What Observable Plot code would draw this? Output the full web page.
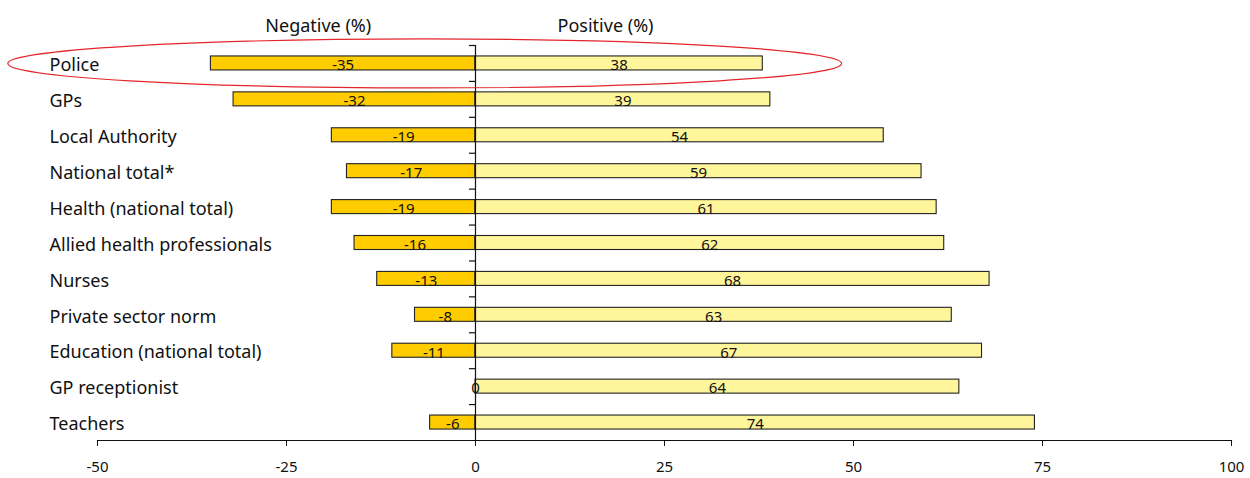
<!DOCTYPE html>
<html>
<head>
<meta charset="utf-8">
<script src="https://cdn.jsdelivr.net/npm/d3@7"></script>
<script src="https://cdn.jsdelivr.net/npm/@observablehq/plot@0.6"></script>
<style>
  html, body { margin: 0; padding: 0; background: #fff; }
  #chart { width: 1250px; height: 478px; }
</style>
</head>
<body>
<div id="chart"></div>
<script>
const categories = [
  "Police", "GPs", "Local Authority", "National total*", "Health (national total)",
  "Allied health professionals", "Nurses", "Private sector norm",
  "Education (national total)", "GP receptionist", "Teachers"
];
const negativeValues = [-35, -32, -19, -17, -19, -16, -13, -8, -11, 0, -6];
const positiveValues = [38, 39, 54, 59, 61, 62, 68, 63, 67, 64, 74];
const xTicks = [-50, -25, 0, 25, 50, 75, 100];
const headers = ["Negative (%)", "Positive (%)"];
const headerX = [-20.8, 17.2];
// highlighted row (red ellipse annotation), extent in x data units
const highlightCategory = "Police";
const highlightX = [-61.8, 48.5];

const rows = categories.map((c, i) => ({cat: c, neg: negativeValues[i], pos: positiveValues[i]}));

const ellipseMark = (index, scales, values, dimensions) => {
  const y = scales.y;
  const bw = y.bandwidth ? y.bandwidth() : 0;
  const cy = y(highlightCategory) + bw / 2 + 0.5;
  const x1 = scales.x(highlightX[0]), x2 = scales.x(highlightX[1]);
  const ns = "http://www.w3.org/2000/svg";
  const el = document.createElementNS(ns, "ellipse");
  el.setAttribute("cx", (x1 + x2) / 2);
  el.setAttribute("cy", cy);
  el.setAttribute("rx", (x2 - x1) / 2);
  el.setAttribute("ry", 24.5);
  el.setAttribute("fill", "none");
  el.setAttribute("stroke", "#e3262b");
  el.setAttribute("stroke-width", 1.2);
  return el;
};

const chart = Plot.plot({
  width: 1250,
  height: 478,
  marginLeft: 97,
  marginRight: 19,
  marginTop: 45,
  marginBottom: 38,
  style: {fontFamily: "'Noto Sans', sans-serif", fontSize: "15px", color: "#111", background: "#fff"},
  x: {domain: [-50, 100]},
  y: {domain: categories, type: "band", paddingInner: 0.61, paddingOuter: 0.305, round: false, axis: null},
  marks: [
    Plot.barX(rows, {y: "cat", x1: 0, x2: "neg", fill: "#FFCC00", stroke: "#222", strokeWidth: 1.1}),
    Plot.barX(rows, {y: "cat", x1: 0, x2: "pos", fill: "#FFF59A", stroke: "#222", strokeWidth: 1.1}),
    Plot.ruleX([0], {stroke: "#111", strokeWidth: 1.2}),
    Plot.ruleY(categories, {y: d => d, x1: -0.8, x2: 0, dy: -17.95, stroke: "#111", strokeWidth: 1.2}),
    Plot.frame({anchor: "bottom", stroke: "#111", strokeWidth: 1.2}),
    Plot.axisX({ticks: xTicks, tickSize: 6, tickPadding: 15, tickFormat: d => String(d), fontSize: 15, label: null, stroke: "#111"}),
    Plot.text(rows, {x: d => d.neg / 2, y: "cat", text: d => String(d.neg), fontSize: 15, dy: 2, fill: "#111"}),
    Plot.text(rows, {x: d => d.pos / 2, y: "cat", text: d => String(d.pos), fontSize: 15, dy: 2, fill: "#111"}),
    Plot.text(categories, {y: d => d, text: d => d, frameAnchor: "left", textAnchor: "start", dx: -48, dy: 2, fontSize: 18, fill: "#111"}),
    Plot.text(headers, {x: (d, i) => headerX[i], text: d => d, frameAnchor: "top", dy: -26, fontSize: 18, fill: "#111"}),
    ellipseMark
  ]
});
document.getElementById("chart").appendChild(chart);
</script>
</body>
</html>
